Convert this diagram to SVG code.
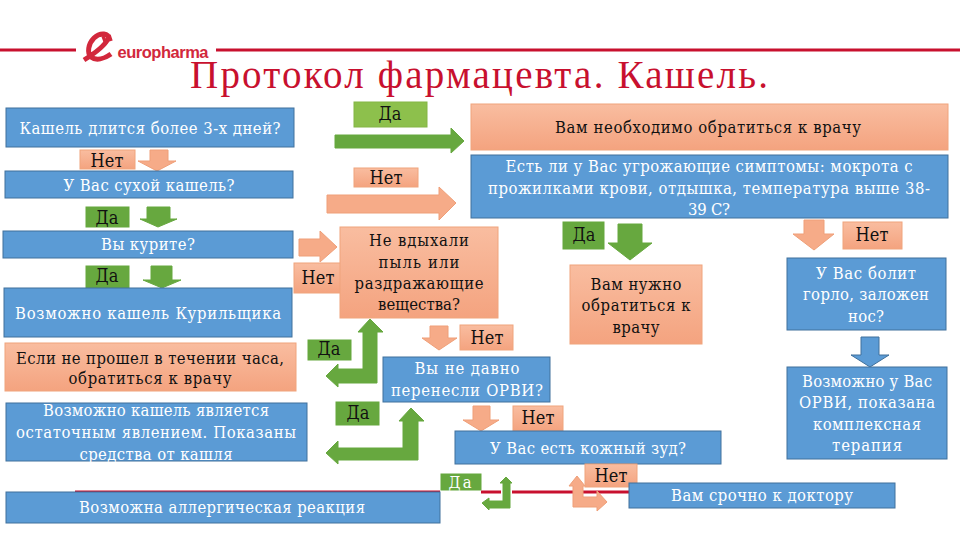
<svg xmlns="http://www.w3.org/2000/svg" width="960" height="540" viewBox="0 0 960 540">
<style>
text{font-family:"DejaVu Serif Condensed","DejaVu Serif","Liberation Serif",serif;font-size:16.5px;text-anchor:middle}
.n{font-size:18px}
.b{fill:#5b9bd5;stroke:#41719c;stroke-width:1}
.o{fill:url(#og);stroke:#f0a47c;stroke-width:1}
.g{fill:#67a83f;stroke:#67a83f;stroke-width:1}
.lg{fill:#8dc04c;stroke:#84b545;stroke-width:1}
.w{fill:#fff}
.k{fill:#111}
.ao{fill:#f6ab88;stroke:#ef9f78;stroke-width:1}
.ag{fill:#67a83f;stroke:#67a83f;stroke-width:1}
.ab{fill:#5b9bd5;stroke:#41719c;stroke-width:1}
.rl{stroke:#c8102e;stroke-width:3;fill:none}
</style>
<defs>
<linearGradient id="og" x1="0" y1="0" x2="0" y2="1"><stop offset="0" stop-color="#f9bda0"/><stop offset="1" stop-color="#f4a37f"/></linearGradient>
</defs>
<g id="header">
<path class="rl" d="M0 50H76M216 50H960"/>
<g fill="none" stroke="#d2283c">
<path stroke-width="5" d="M84 60C92 55 104 47 108 39C110 33 100 32 94 38C88 44 87 53 91 57C96 61 104 59 111 54"/>
<path stroke-width="3.5" d="M103 36L106 44M109 35L111 41"/>
</g>
<text x="163" y="58" style="font-family:'Liberation Sans',sans-serif;font-size:16.5px;font-weight:bold;fill:#d2283c" textLength="91">europharma</text>
<text x="479" y="88" style="font-family:'Liberation Serif',serif;font-size:39px;fill:#c8102e" textLength="578">Протокол фармацевта. Кашель.</text>
</g>
<g id="connectors">
<path class="rl" d="M75 492H440M481 492H501M512 492H629"/>
<path id="c1" class="ao" d="M150 150H168V161H176L157 171L138 161H150Z"/>
<path id="c2" class="ag" d="M147 207H170V219H177L158 227L140 219H147Z"/>
<path id="c3" class="ag" d="M151 266H172V280H181L162 288L143 280H151Z"/>
<path id="c4" class="ag" d="M335 135H451V128L464 141L451 153V148H335Z"/>
<path id="c5" class="ao" d="M327 195H439V187L456 203L439 220V213H327Z"/>
<path id="c6" class="ao" d="M299 239H320V231L337 247L320 262V256H299Z"/>
<path id="c7" class="ag" d="M618 224H642V243H652L630 260L608 243H618Z"/>
<path id="c8" class="ao" d="M804 220H824V234H834L814 250L793 234H804Z"/>
<path id="c9" class="ab" d="M861 337H879V355H889L870 367L851 355H861Z"/>
<path id="c10" class="ao" d="M430 326H448V338H457L439 350L422 338H430Z"/>
<path id="c11" class="ao" d="M473 406H490V420H499L481 431L463 420H473Z"/>
<path id="c12" class="ag" d="M370 319L383 332H377V383H338V387L326 376L338 364V369H363V332H358Z"/>
<path id="c13" class="ag" d="M411 408L424 421H418V460H338V464L326 453L338 441V448H403V421H399Z"/>
<path id="c14" class="ag" d="M506 477L512 483H510V508H489V510L482 503L489 498V501H503V483H500Z"/>
<path id="c15" class="ao" d="M577 476L585 486H583V497H597V491L607 502L597 511V507H573V486H569Z"/>
</g>
<g id="n1"><rect class="b" x="6" y="108" width="288" height="39"/><text class="w" x="150" y="134" textLength="261">Кашель длится более 3-х дней?</text></g>
<g id="n2"><rect class="o" x="80" y="150" width="55" height="19"/><text class="k n" x="107" y="167" textLength="33">Нет</text></g>
<g id="n3"><rect class="b" x="5" y="171" width="288" height="27"/><text class="w" x="149" y="191" textLength="171">У Вас сухой кашель?</text></g>
<g id="n4"><rect class="g" x="86" y="207" width="43" height="20"/><text class="k n" x="107" y="224" textLength="23">Да</text></g>
<g id="n5"><rect class="b" x="3" y="231" width="290" height="27"/><text class="w" x="148" y="250" textLength="94">Вы курите?</text></g>
<g id="n6"><rect class="g" x="86" y="266" width="43" height="22"/><text class="k n" x="107" y="282" textLength="23">Да</text></g>
<g id="n7"><rect class="b" x="4" y="288" width="288" height="49"/><text class="w" x="148" y="319" textLength="266">Возможно кашель Курильщика</text></g>
<g id="n8"><rect class="o" x="5" y="343" width="291" height="48"/><text class="k" x="150" y="364" textLength="268">Если не прошел в течении часа,</text><text class="k" x="150" y="384" textLength="163">обратиться к врачу</text></g>
<g id="n9"><rect class="b" x="6" y="403" width="301" height="58"/><text class="w" x="156" y="416" textLength="226">Возможно кашель является</text><text class="w" x="156" y="438" textLength="280">остаточным явлением. Показаны</text><text class="w" x="156" y="460" textLength="153">средства от кашля</text></g>
<g id="n10"><rect class="b" x="6" y="492" width="434" height="31"/><text class="w" x="222" y="513" textLength="286">Возможна аллергическая реакция</text></g>
<g id="n11"><rect class="lg" x="354" y="102" width="73" height="25"/><text class="k n" x="390" y="120" textLength="23">Да</text></g>
<g id="n12"><rect class="o" x="471" y="104" width="477" height="46"/><text class="k" x="708" y="133" textLength="306">Вам необходимо обратиться к врачу</text></g>
<g id="n13"><rect class="o" x="354" y="168" width="64" height="19"/><text class="k n" x="386" y="184" textLength="33">Нет</text></g>
<g id="n14"><rect class="b" x="471" y="155" width="477" height="63"/><text class="w" x="709" y="172" textLength="407">Есть ли у Вас угрожающие симптомы: мокрота с</text><text class="w" x="709" y="194" textLength="442">прожилками крови, отдышка, температура выше 38-</text><text class="w" x="709" y="215" textLength="42">39 С?</text></g>
<g id="n15"><rect class="o" x="294" y="263" width="50" height="30"/><text class="k n" x="318" y="284" textLength="33">Нет</text></g>
<g id="n16"><rect class="o" x="340" y="227" width="158" height="91"/><text class="k" x="419" y="246" textLength="100">Не вдыхали</text><text class="k" x="419" y="268" textLength="81">пыль или</text><text class="k" x="419" y="289" textLength="129">раздражающие</text><text class="k" x="419" y="310" textLength="82">вещества?</text></g>
<g id="n17"><rect class="g" x="563" y="222" width="41" height="27"/><text class="k n" x="584" y="241" textLength="23">Да</text></g>
<g id="n18"><rect class="o" x="843" y="222" width="59" height="27"/><text class="k n" x="872" y="241" textLength="33">Нет</text></g>
<g id="n19"><rect class="o" x="570" y="265" width="132" height="79"/><text class="k" x="636" y="290" textLength="91">Вам нужно</text><text class="k" x="636" y="311" textLength="109">обратиться к</text><text class="k" x="636" y="333" textLength="47">врачу</text></g>
<g id="n20"><rect class="b" x="787" y="258" width="159" height="72"/><text class="w" x="866" y="279" textLength="100">У Вас болит</text><text class="w" x="866" y="300" textLength="126">горло, заложен</text><text class="w" x="866" y="322" textLength="36">нос?</text></g>
<g id="n21"><rect class="g" x="308" y="340" width="43" height="20"/><text class="k n" x="329" y="355" textLength="23">Да</text></g>
<g id="n22"><rect class="o" x="460" y="325" width="53" height="25"/><text class="k n" x="487" y="344" textLength="33">Нет</text></g>
<g id="n23"><rect class="b" x="383" y="357" width="167" height="45"/><text class="w" x="467" y="374" textLength="105">Вы не давно</text><text class="w" x="467" y="396" textLength="152">перенесли ОРВИ?</text></g>
<g id="n24"><rect class="g" x="336" y="402" width="43" height="23"/><text class="k n" x="358" y="419" textLength="23">Да</text></g>
<g id="n25"><rect class="o" x="513" y="406" width="50" height="25"/><text class="k n" x="538" y="424" textLength="33">Нет</text></g>
<g id="n26"><rect class="b" x="455" y="431" width="266" height="33"/><text class="w" x="588" y="454" textLength="196">У Вас есть кожный зуд?</text></g>
<g id="n27"><rect class="b" x="787" y="367" width="160" height="92"/><text class="w" x="867" y="387" textLength="130">Возможно у Вас</text><text class="w" x="867" y="408" textLength="136">ОРВИ, показана</text><text class="w" x="867" y="430" textLength="108">комплексная</text><text class="w" x="867" y="451" textLength="70">терапия</text></g>
<g id="n28"><rect class="g" x="441" y="474" width="40" height="16"/><text class="w" x="460" y="488" textLength="23">Да</text></g>
<g id="n29"><rect class="o" x="585" y="464" width="52" height="23"/><text class="k n" x="611" y="482" textLength="33">Нет</text></g>
<g id="n30"><rect class="b" x="629" y="483" width="266" height="25"/><text class="w" x="762" y="501" textLength="182">Вам срочно к доктору</text></g>
</svg>
